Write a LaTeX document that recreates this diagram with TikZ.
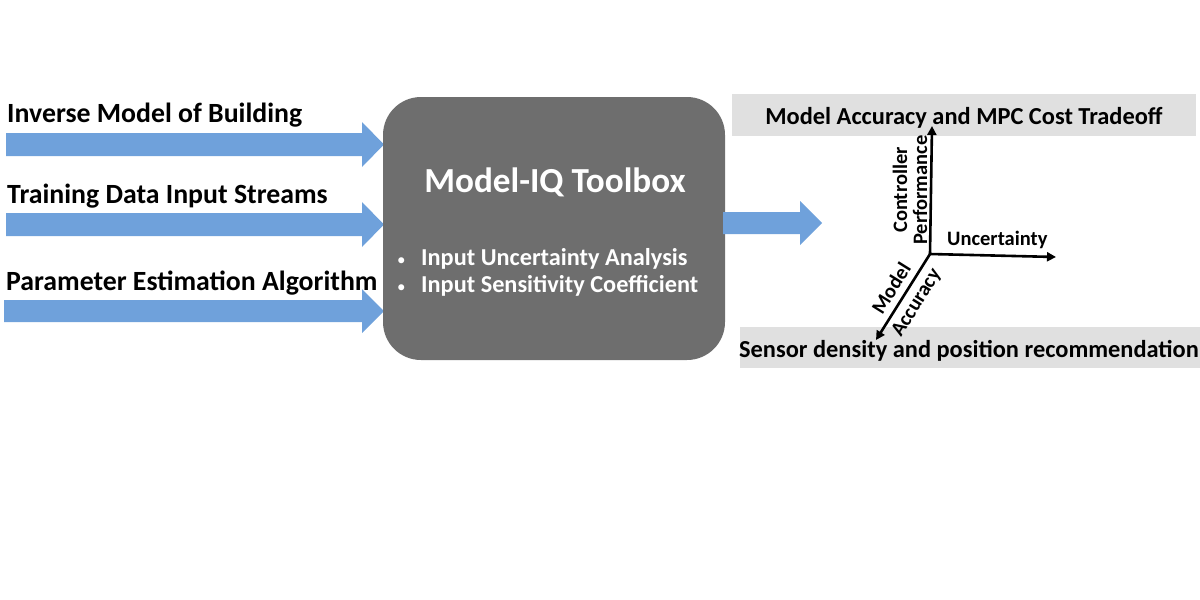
\documentclass[tikz,border=0pt]{standalone}
\usepackage{fontspec}
\setmainfont{Carlito}
\usetikzlibrary{arrows.meta}
\definecolor{arrblue}{HTML}{6FA1DB}
\definecolor{boxgray}{HTML}{6E6E6E}
\definecolor{bandgray}{HTML}{E0E0E0}
\tikzset{
  fatarrow/.style={fill=arrblue, draw=none},
  lbl/.style={font=\fontsize{27.8}{30}\selectfont\bfseries, anchor=base west, inner sep=0pt},
  band/.style={fill=bandgray, draw=none},
  bandtxt/.style={font=\fontsize{24.4}{26}\selectfont\bfseries, inner sep=0pt, anchor=base},
  bul/.style={font=\fontsize{24.3}{27}\selectfont\bfseries, text=white, inner sep=0pt, anchor=base west},
  axis/.style={line width=2.6pt, -{Triangle[length=9pt,width=9pt]}},
  axlbl/.style={font=\fontsize{20.5}{21}\selectfont\bfseries, inner sep=0pt},
}
\begin{document}
\begin{tikzpicture}[x=1pt,y=-1pt]
\useasboundingbox (0,0) rectangle (1200,600);
% input arrows
\fill[fatarrow] (6,133) -- (362,133) -- (362,122) -- (384,144.5) -- (362,167) -- (362,156) -- (6,156) -- cycle;
\fill[fatarrow] (6,213) -- (362,213) -- (362,202) -- (384,224.5) -- (362,247) -- (362,236) -- (6,236) -- cycle;
\fill[fatarrow] (4,300) -- (362,300) -- (362,289) -- (384,311) -- (362,333) -- (362,322) -- (4,322) -- cycle;
\node[lbl] (l1) at (7,122) {Inverse Model of Building};
\node[lbl] (l2) at (7,203) {Training Data Input Streams};
\node[lbl] (l3) at (6,290) {Parameter Estimation Algorithm};
% central box
\node[fill=boxgray, rounded corners=38pt, minimum width=342pt, minimum height=263pt, inner sep=0pt] (tb) at (554,228.5) {};
\node[font=\fontsize{35.2}{40}\selectfont\bfseries, text=white, inner sep=0pt, anchor=base] (tt) at (555,192) {Model-IQ Toolbox};
\node[bul, font=\fontsize{17}{20}\selectfont] (d1) at (397,265) {\textbullet};
\node[bul, font=\fontsize{17}{20}\selectfont] (d2) at (397,292) {\textbullet};
\node[bul] (b1) at (421,265) {Input Uncertainty Analysis};
\node[bul] (b2) at (421,292) {Input Sensitivity Coefficient};
% output arrow
\fill[fatarrow] (723,212) -- (800,212) -- (800,201) -- (822,223) -- (800,245) -- (800,234) -- (723,234) -- cycle;
% bands
\fill[band] (732,94) rectangle (1196,136);
\node[bandtxt] (t1) at (964,124) {Model Accuracy and MPC Cost Tradeoff};
\fill[band] (740,327) rectangle (1200,368);
\node[bandtxt] (t2) at (969,357) {Sensor density and position recommendation};
% axes
\coordinate (o) at (930,254);
\coordinate (ay) at (932,126);
\coordinate (ax) at (1056,257);
\coordinate (az) at (876,340);
\draw[axis] (o) -- (ay);
\draw[axis] (o) -- (ax);
\draw[axis] (o) -- (az);
\node[axlbl, rotate=90] (cp1) at (900,190) {Controller};
\node[axlbl, rotate=90] (cp2) at (920,190) {Performance};
\node[axlbl, anchor=base west] (un) at (947,245) {Uncertainty};
\node[axlbl, rotate=58] (ma1) at (891,288) {Model};
\node[axlbl, rotate=58] (ma2) at (917,303) {Accuracy};
\end{tikzpicture}
\end{document}
